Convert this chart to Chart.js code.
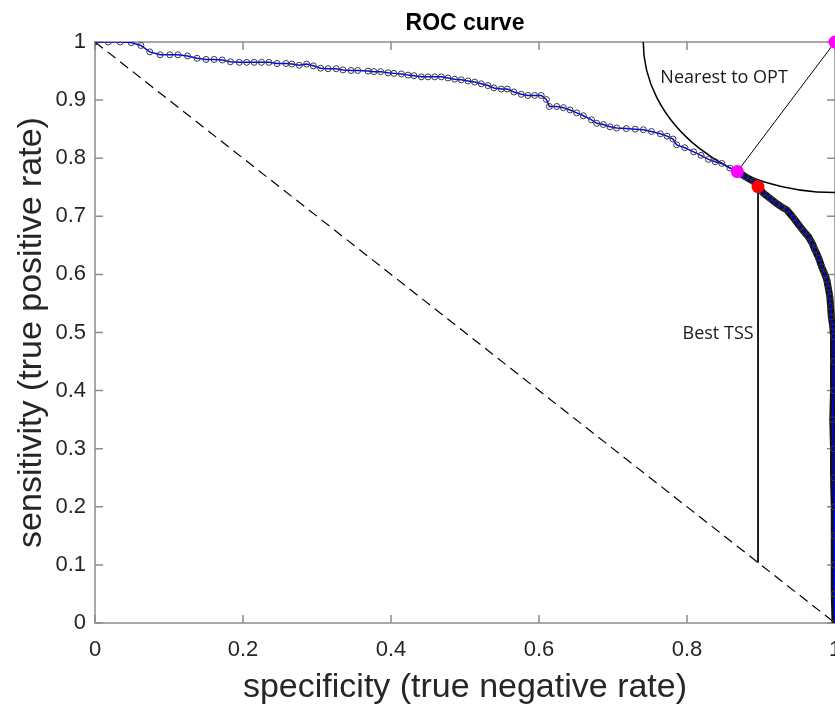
<!DOCTYPE html>
<html>
<head>
<meta charset="utf-8">
<title>ROC curve</title>
<script src="https://cdn.jsdelivr.net/npm/chart.js@4.4.1/dist/chart.umd.min.js"></script>
<style>
  html, body { margin: 0; padding: 0; background: #fff; overflow: hidden; }
  #box { position: relative; width: 860px; height: 706px; }
</style>
</head>
<body>
<div id="box"><canvas id="grafico" width="860" height="706"></canvas></div>
<script>
// ───────────────────────── ROC curve points (specificity, sensitivity)
const specificity = [
  0.000, 0.018, 0.034, 0.049, 0.062, 0.074, 0.088, 0.101, 0.112, 0.125,
  0.138, 0.150, 0.161, 0.172, 0.183, 0.195, 0.205, 0.215, 0.225, 0.235,
  0.246, 0.258, 0.266, 0.276, 0.286, 0.295, 0.305, 0.315, 0.326, 0.335,
  0.346, 0.355, 0.369, 0.377, 0.386, 0.396, 0.404, 0.414, 0.423, 0.431,
  0.441, 0.450, 0.459, 0.468, 0.477, 0.486, 0.495, 0.504, 0.513, 0.522,
  0.531, 0.539, 0.549, 0.557, 0.566, 0.576, 0.585, 0.594, 0.603, 0.610,
  0.614, 0.624, 0.633, 0.642, 0.651, 0.660, 0.671, 0.678, 0.687, 0.696,
  0.705, 0.718, 0.730, 0.741, 0.752, 0.764, 0.773, 0.781, 0.786, 0.797,
  0.809, 0.819, 0.829, 0.838, 0.847, 0.858, 0.868, 0.879, 0.890, 0.896,
  0.903, 0.912, 0.921, 0.928, 0.935, 0.944, 0.953, 0.958, 0.964, 0.969,
  0.973, 0.978, 0.982, 0.986, 0.989, 0.991, 0.993, 0.994, 0.995, 0.997,
  0.998, 0.998, 0.998, 0.997, 0.998, 0.998, 0.999, 0.999, 0.999, 0.999,
  1.000
];
const sensitivity = [
  1.000, 1.000, 1.000, 0.999, 0.994, 0.983, 0.978, 0.978, 0.978, 0.976,
  0.972, 0.970, 0.970, 0.969, 0.966, 0.965, 0.965, 0.965, 0.965, 0.965,
  0.963, 0.963, 0.962, 0.960, 0.962, 0.959, 0.955, 0.954, 0.954, 0.952,
  0.951, 0.951, 0.950, 0.949, 0.949, 0.947, 0.946, 0.945, 0.943, 0.942,
  0.940, 0.940, 0.940, 0.940, 0.938, 0.936, 0.935, 0.933, 0.931, 0.928,
  0.925, 0.921, 0.919, 0.919, 0.914, 0.910, 0.908, 0.908, 0.908, 0.901,
  0.889, 0.889, 0.887, 0.883, 0.878, 0.873, 0.866, 0.860, 0.858, 0.854,
  0.852, 0.851, 0.850, 0.849, 0.846, 0.842, 0.838, 0.833, 0.823, 0.818,
  0.811, 0.805, 0.798, 0.794, 0.791, 0.783, 0.777, 0.768, 0.760, 0.751,
  0.740, 0.731, 0.722, 0.716, 0.711, 0.697, 0.682, 0.674, 0.665, 0.654,
  0.642, 0.628, 0.613, 0.601, 0.590, 0.576, 0.562, 0.545, 0.527, 0.510,
  0.493, 0.450, 0.400, 0.350, 0.300, 0.250, 0.200, 0.150, 0.100, 0.050,
  0.000
];

// optimal corner, nearest point to it, and best TSS threshold
const optCorner   = { x: 1, y: 1 };
const nearestOpt  = { x: 0.868, y: 0.777 };
const bestTss     = { x: 0.896, y: 0.751 };

// axis ticks
const xTicks = [0, 0.2, 0.4, 0.6, 0.8, 1];
const yTicks = [0, 0.1, 0.2, 0.3, 0.4, 0.5, 0.6, 0.7, 0.8, 0.9, 1];

const rocPts   = specificity.map((x, i) => ({ x, y: sensitivity[i] }));
const denseIni = specificity.findIndex(v => v >= nearestOpt.x);
const optRadio = Math.hypot(optCorner.x - nearestOpt.x, optCorner.y - nearestOpt.y);

const gris  = '#8c8c8c';
const texto = '#262626';

// ───────────────────────── box, inward ticks, circle round OPT and labels
const marco = {
  id: 'marco',
  beforeDatasetsDraw (chart) {
    const { ctx, chartArea: a, scales: { x, y } } = chart;
    ctx.save();
    ctx.strokeStyle = gris;
    ctx.lineWidth = 1.5;
    ctx.strokeRect(a.left, a.top, a.right - a.left, a.bottom - a.top);
    ctx.beginPath();
    x.ticks.forEach(t => {
      const px = x.getPixelForValue(t.value);
      ctx.moveTo(px, a.bottom); ctx.lineTo(px, a.bottom - 8);
      ctx.moveTo(px, a.top);    ctx.lineTo(px, a.top + 8);
    });
    y.ticks.forEach(t => {
      const py = y.getPixelForValue(t.value);
      ctx.moveTo(a.left, py);  ctx.lineTo(a.left + 8, py);
      ctx.moveTo(a.right, py); ctx.lineTo(a.right - 8, py);
    });
    ctx.stroke();

    // circle of radius |nearest - OPT| centred on the corner
    ctx.beginPath();
    ctx.rect(a.left, a.top, a.right - a.left, a.bottom - a.top);
    ctx.clip();
    const cx = x.getPixelForValue(optCorner.x);
    const cy = y.getPixelForValue(optCorner.y);
    const rx = cx - x.getPixelForValue(optCorner.x - optRadio);
    const ry = y.getPixelForValue(optCorner.y - optRadio) - cy;
    ctx.beginPath();
    ctx.ellipse(cx, cy, rx, ry, 0, 0, Math.PI * 2);
    ctx.strokeStyle = '#000';
    ctx.lineWidth = 1.5;
    ctx.stroke();
    ctx.restore();
  },
  afterDatasetsDraw (chart) {
    const { ctx, chartArea: a, scales: { x, y } } = chart;
    ctx.save();
    ctx.fillStyle = '#000';
    ctx.font = 'bold 23px "Liberation Sans", Arial, sans-serif';
    ctx.textAlign = 'center';
    ctx.textBaseline = 'middle';
    ctx.fillText('ROC curve', (a.left + a.right) / 2, 24);

    ctx.fillStyle = '#1a1a1a';
    ctx.font = '18px "Open Sans", sans-serif';
    ctx.textAlign = 'left';
    ctx.fillText('Nearest to OPT', x.getPixelForValue(0.764), y.getPixelForValue(0.938));
    ctx.fillText('Best TSS', x.getPixelForValue(0.794), y.getPixelForValue(0.497));
    ctx.restore();
  }
};

// ───────────────────────── chart
const ctx = document.getElementById('grafico').getContext('2d');
new Chart(ctx, {
  type: 'scatter',
  data: {
    datasets: [
      { // nearest point to OPT and the segment to the corner
        data: [nearestOpt, optCorner],
        showLine: true,
        borderColor: '#000',
        borderWidth: 1,
        pointRadius: 6.5,
        pointBackgroundColor: '#ff00ff',
        pointBorderColor: '#ff00ff',
        pointBorderWidth: 0,
        clip: false
      },
      { // best TSS point, dropped to the chance line
        data: [bestTss, { x: bestTss.x, y: 1 - bestTss.x }],
        showLine: true,
        borderColor: '#000',
        borderWidth: 1,
        pointRadius: c => c.dataIndex === 0 ? 6.5 : 0,
        pointBackgroundColor: '#ff0000',
        pointBorderColor: '#ff0000',
        pointBorderWidth: 0
      },
      { // ROC curve
        data: rocPts,
        showLine: true,
        borderColor: '#0000ff',
        borderWidth: 1.5,
        pointRadius: 3,
        pointBackgroundColor: 'rgba(255,255,255,0)',
        pointBorderColor: '#3a3a3a',
        pointBorderWidth: 1
      },
      { // tightly packed markers near the lower right
        data: rocPts.slice(denseIni),
        showLine: true,
        borderColor: '#111',
        borderWidth: 7,
        pointRadius: 0
      },
      { // chance line
        data: [{ x: 0, y: 1 }, { x: 1, y: 0 }],
        showLine: true,
        borderColor: '#000',
        borderWidth: 1.2,
        borderDash: [10, 6],
        pointRadius: 0
      }
    ]
  },
  options: {
    responsive: false,
    animation: false,
    layout: { padding: { top: 42, right: 25, left: 0, bottom: 0 } },
    plugins: { legend: { display: false }, tooltip: { enabled: false } },
    scales: {
      x: {
        type: 'linear', min: 0, max: 1,
        afterBuildTicks: s => { s.ticks = xTicks.map(v => ({ value: v })); },
        afterFit: s => { s.height = 83; },
        grid: { display: false, drawTicks: false },
        border: { display: false },
        ticks: {
          color: texto, padding: 14, maxRotation: 0,
          font: { family: 'Liberation Sans', size: 22 },
          callback: v => String(+v.toFixed(1))
        },
        title: {
          display: true, text: 'specificity (true negative rate)', color: texto,
          font: { family: 'Liberation Sans', size: 34 }, padding: { top: 0, bottom: -2 }
        }
      },
      y: {
        type: 'linear', min: 0, max: 1,
        afterBuildTicks: s => { s.ticks = yTicks.map(v => ({ value: v })); },
        afterFit: s => { s.width = 95; },
        grid: { display: false, drawTicks: false },
        border: { display: false },
        ticks: {
          color: texto, padding: 9,
          font: { family: 'Liberation Sans', size: 22 },
          callback: v => String(+v.toFixed(1))
        },
        title: {
          display: true, text: 'sensitivity (true positive rate)', color: texto,
          font: { family: 'Liberation Sans', size: 34 }, padding: { top: 11, bottom: 0 }
        }
      }
    }
  },
  plugins: [marco]
});
</script>
</body>
</html>
